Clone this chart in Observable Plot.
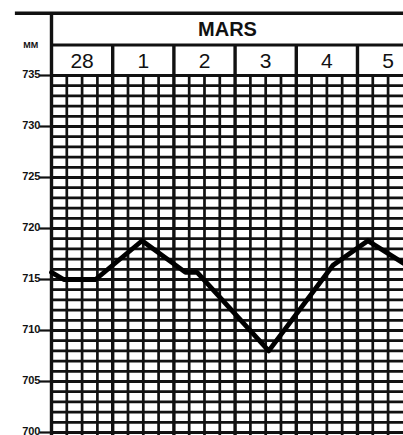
<!DOCTYPE html>
<html>
<head>
<meta charset="utf-8">
<script src="https://cdn.jsdelivr.net/npm/d3@7"></script>
<script src="https://cdn.jsdelivr.net/npm/@observablehq/plot@0.6"></script>
<style>
  html, body { margin: 0; padding: 0; background: #fff; }
  svg { display: block; }
</style>
</head>
<body>
<div id="chart"></div>
<script>
// Month and day labels (header)
const month = "MARS";
const dayLabels = ["28", "1", "2", "3", "4", "5"];
// Pressure axis tick labels (mm of mercury)
const yTicks = [700, 705, 710, 715, 720, 725, 730, 735];
const unitLabel = "MM";
// Barometric trace: time in days since 28 Feb 0h, pressure in mm
const times = [0, 0.2, 0.72, 1.48, 2.19, 2.38, 3.55, 4.6, 5.17, 5.75];
const pressure = [715.7, 715.0, 715.0, 718.8, 715.7, 715.7, 708.0, 716.4, 718.8, 716.6];

const xMax = 5.752;
const font = "'Liberation Sans', Arial, Helvetica, sans-serif";
const mmLines = d3.range(700, 736);
const dayStarts = d3.range(0, 6);
const subLines = d3.range(0, 23).map(i => i * 0.25).filter(t => t % 1 !== 0);

const chart = Plot.plot({
  width: 403,
  height: 435,
  marginLeft: 51,
  marginRight: 0,
  marginTop: 75,
  marginBottom: 3,
  x: {domain: [0, xMax], axis: null},
  y: {domain: [700, 735], axis: null},
  style: {background: "#fff", fontFamily: font},
  marks: [
    // millimetre grid lines
    Plot.ruleY(mmLines, {y: d => d, x1: 0, x2: xMax, stroke: "#111", strokeWidth: 2.8}),
    // six-hour grid lines
    Plot.ruleX(subLines, {x: d => d, y1: 735, y2: 698, stroke: "#111", strokeWidth: 2.7}),
    // day boundaries (through the header row)
    Plot.ruleX(dayStarts.filter(d => d > 0), {x: d => d, y1: 738, y2: 698, stroke: "#111", strokeWidth: 3.4}),
    // left border
    Plot.ruleX([0], {x: d => d, y1: 741.1, y2: 698, stroke: "#111", strokeWidth: 3.4}),
    // header lines
    Plot.ruleY([741.1], {y: d => d, x1: -0.59, x2: xMax, stroke: "#111", strokeWidth: 3.4}),
    Plot.ruleY([738], {y: d => d, x1: 0, x2: xMax, stroke: "#111", strokeWidth: 3}),
    Plot.text([month], {x: xMax / 2, y: 739.5, text: d => d, fontSize: 20, fontWeight: "bold", fill: "#111", fontFamily: font}),
    Plot.text(dayLabels, {x: (d, i) => i + 0.5, y: 736.5, text: d => d, fontSize: 21, fontWeight: 500, fill: "#111", fontFamily: font, dy: 1}),
    // y ticks and labels
    Plot.ruleY(yTicks, {y: d => d, x1: -0.19, x2: 0, stroke: "#111", strokeWidth: 2.2}),
    Plot.text(yTicks, {x: -0.18, y: d => d, text: d => String(d), textAnchor: "end", lineAnchor: "bottom", dy: 2, fontSize: 11, fontWeight: "bold", fill: "#111", fontFamily: font, letterSpacing: -0.6}),
    Plot.text([unitLabel], {x: -0.34, y: 738, text: d => d, fontSize: 9, fontWeight: "bold", fill: "#111", fontFamily: font}),
    // barometric trace
    Plot.line(times.map((t, i) => ({t, p: pressure[i]})), {x: "t", y: "p", stroke: "#000", strokeWidth: 4.8, strokeLinejoin: "round"})
  ]
});
document.getElementById("chart").append(chart);
</script>
</body>
</html>
